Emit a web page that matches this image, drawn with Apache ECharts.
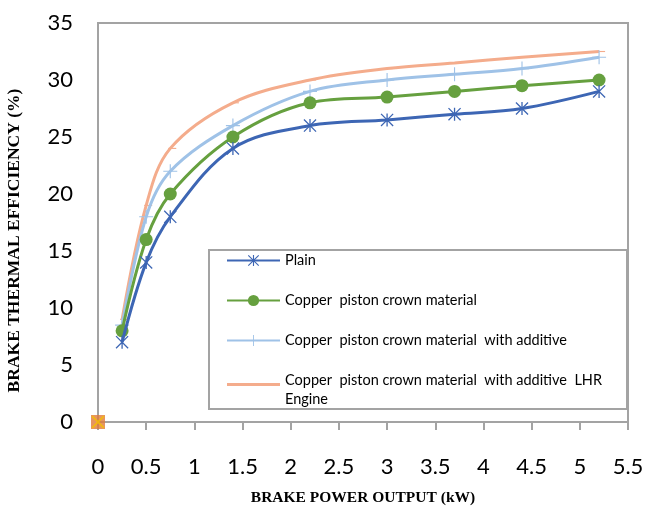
<!DOCTYPE html>
<html><head><meta charset="utf-8">
<script src="https://cdn.jsdelivr.net/npm/echarts@6/dist/echarts.min.js"></script>
<style>html,body{margin:0;padding:0;background:#fff}#c{width:647px;height:507px}</style>
</head><body><div id="c"></div>
<script>
const powerOutput = [0.25, 0.5, 0.75, 1.4, 2.2, 3, 3.7, 4.4, 5.2];
const plain = [7, 14, 18, 24, 26, 26.5, 27, 27.5, 29];
const copper = [8, 16, 20, 25, 28, 28.5, 29, 29.5, 30];
const copperAdditive = [8.5, 18, 22, 26, 29, 30, 30.5, 31, 32];
const copperAdditiveLHR = [9, 19, 24, 28, 30, 31, 31.5, 32, 32.5];
const originPoint = [[0, 0]];
const seriesNames = [
  'Plain',
  'Copper  piston crown material',
  'Copper  piston crown material  with additive',
  'Copper  piston crown material  with additive  LHR Engine'
];
const xTitle = 'BRAKE POWER OUTPUT (kW)';
const yTitle = 'BRAKE THERMAL EFFICIENCY (%)';

const pair = arr => powerOutput.map((x, i) => [x, arr[i]]);
const asterisk = 'path://M9,0L11,0L11,20L9,20Z M0,1.4L1.4,0L20,18.6L18.6,20Z M18.6,0L20,1.4L1.4,20L0,18.6Z';
const plus = 'path://M9.2,0L10.8,0L10.8,20L9.2,20Z M0,9.2L20,9.2L20,10.8L0,10.8Z';
const dash = 'path://M0,0L8,0L8,3L0,3Z';
const xMark = 'path://M0,2L2,0L20,18L18,20Z M18,0L20,2L2,20L0,18Z';
const lhrLegendIcon = 'path://M0,0L53,0L53,3L0,3Z M26,13.9L26.1,13.9L26.1,14L26,14Z';

const C = {plain:'#3d66b4', copper:'#66a03f', add:'#9fc2e7', lhr:'#f4ac8c'};

const chart = echarts.init(document.getElementById('c'));
chart.setOption({
  animation: false,
  grid: {left: 98, top: 23, right: 19, bottom: 85, show: true, borderColor: '#a3a3a3', borderWidth: 2,
         outerBoundsMode: 'none', containLabel: false},
  xAxis: {
    type: 'value', min: 0, max: 5.5, interval: 0.5,
    name: xTitle, nameLocation: 'middle', nameGap: 68,
    nameTextStyle: {fontFamily: 'Liberation Serif', fontWeight: 'bold', fontSize: 15.5, color: '#000'},
    axisLine: {show: true, onZero: false, lineStyle: {color: '#a3a3a3', width: 2}},
    axisTick: {show: true, inside: false, length: 8, lineStyle: {color: '#a3a3a3', width: 2}},
    splitLine: {show: false},
    axisLabel: {fontFamily: 'Lato', fontSize: 22, color: '#000', margin: 34}
  },
  yAxis: {
    type: 'value', min: 0, max: 35, interval: 5,
    name: yTitle, nameLocation: 'middle', nameGap: 75, nameRotate: 90,
    nameTextStyle: {fontFamily: 'Liberation Serif', fontWeight: 'bold', fontSize: 17.5, color: '#000',
                    padding: [0, 36, 0, 0]},
    axisLine: {show: true, lineStyle: {color: '#a3a3a3', width: 2}},
    axisTick: {show: false},
    splitLine: {show: false},
    axisLabel: {fontFamily: 'Lato', fontSize: 22, color: '#000', margin: 25}
  },
  legend: {
    left: 209, top: 250, orient: 'vertical',
    padding: [1, 25, 0, 17],
    borderColor: '#a3a3a3', borderWidth: 2,
    itemWidth: 53, itemHeight: 14, itemGap: 21,
    textStyle: {fontFamily: 'Lato', fontSize: 14.5, color: '#000', lineHeight: 19},
    data: [seriesNames[0], seriesNames[1], seriesNames[2], {name: seriesNames[3], icon: lhrLegendIcon}],
    formatter: n => n.replace('LHR Engine', 'LHR\nEngine')
  },
  series: [
    {name: seriesNames[0], type: 'line', smooth: 0.35, data: pair(plain),
     symbol: asterisk, symbolSize: 13,
     lineStyle: {color: C.plain, width: 3}, itemStyle: {color: C.plain}, z: 5},
    {name: seriesNames[1], type: 'line', smooth: 0.35, data: pair(copper),
     symbol: 'circle', symbolSize: 13,
     lineStyle: {color: C.copper, width: 3}, itemStyle: {color: C.copper}, z: 4},
    {name: seriesNames[2], type: 'line', smooth: 0.35, data: pair(copperAdditive),
     symbol: plus, symbolSize: 14,
     lineStyle: {color: C.add, width: 3}, itemStyle: {color: C.add}, z: 3},
    {name: seriesNames[3], type: 'line', smooth: 0.35, data: pair(copperAdditiveLHR),
     symbol: dash, symbolSize: [8, 3], symbolKeepAspect: true, symbolOffset: [2, 0],
     lineStyle: {color: C.lhr, width: 3}, itemStyle: {color: C.lhr}, z: 2},
    {type: 'scatter', data: originPoint, symbol: 'rect', symbolSize: 14,
     itemStyle: {color: '#e07b39'}, z: 10, silent: true},
    {type: 'scatter', data: originPoint, symbol: xMark, symbolSize: 13,
     itemStyle: {color: '#f5c000'}, z: 11, silent: true}
  ]
});
</script></body></html>
